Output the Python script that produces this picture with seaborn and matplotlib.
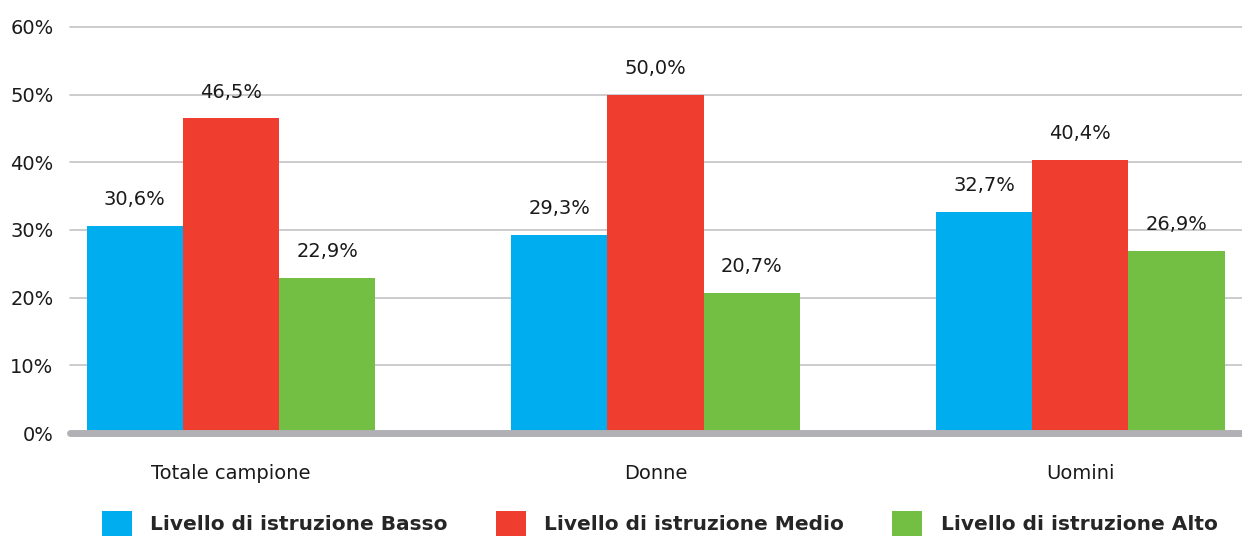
import matplotlib
matplotlib.use("Agg")
import matplotlib.pyplot as plt
import seaborn as sns
import pandas as pd
from matplotlib.patches import Patch

categories = ["Totale campione", "Donne", "Uomini"]
series = ["Livello di istruzione Basso", "Livello di istruzione Medio", "Livello di istruzione Alto"]
basso = [30.6, 29.3, 32.7]
medio = [46.5, 50.0, 40.4]
alto = [22.9, 20.7, 26.9]
yticks = [0, 10, 20, 30, 40, 50, 60]
colors = ["#00AEEF", "#EF3E2F", "#72BF44"]

rows = []
for s, vals in zip(series, [basso, medio, alto]):
    for c, v in zip(categories, vals):
        rows.append({"cat": c, "serie": s, "val": v})
df = pd.DataFrame(rows)

sns.set_theme(style="white")
plt.rcParams['font.family'] = ['DejaVu Sans']

fig = plt.figure(figsize=(12.42, 5.38), dpi=100)
ax = fig.add_axes([0.0564, 0.195, 0.9436, 0.755])

sns.barplot(data=df, x="cat", y="val", hue="serie", order=categories,
            hue_order=series, palette=colors, width=0.68, saturation=1,
            ax=ax, legend=False, zorder=3)

for p in ax.patches:
    p.set_edgecolor("none")

ax.set_ylim(0, 60)
ax.set_xlim(-0.379, 2.381)
ax.set_yticks(yticks)
ax.set_yticklabels([f"{t}%" for t in yticks], fontsize=14, color="#1a1a1a")
ax.tick_params(axis="y", length=0, pad=12)
ax.tick_params(axis="x", length=0, pad=22, labelsize=14, labelcolor="#1a1a1a")
ax.set_xlabel("")
ax.set_ylabel("")
for s in ax.spines.values():
    s.set_visible(False)

for t in yticks[1:]:
    ax.axhline(t, color="#c4c4c6", lw=1.2, zorder=1, clip_on=False)
ax.axhline(0, color="#b1b1b5", lw=5, zorder=4, clip_on=False, solid_capstyle="round")

for cont in ax.containers:
    for bar in cont:
        h = bar.get_height()
        ax.annotate(f"{h:.1f}%".replace(".", ","),
                    (bar.get_x() + bar.get_width() / 2, h),
                    xytext=(0, 12), textcoords="offset points",
                    ha="center", va="bottom", fontsize=14, color="#1a1a1a")

handles = [Patch(facecolor=c, edgecolor="none") for c in colors]
fig.legend(handles, series, loc="center", bbox_to_anchor=(0.531, 0.027),
           ncol=3, frameon=False, handlelength=1.5, handleheight=1.5,
           handletextpad=0.9, columnspacing=2.4,
           prop={"weight": "bold", "size": 14.5})

fig.savefig("out.png", dpi=100)
